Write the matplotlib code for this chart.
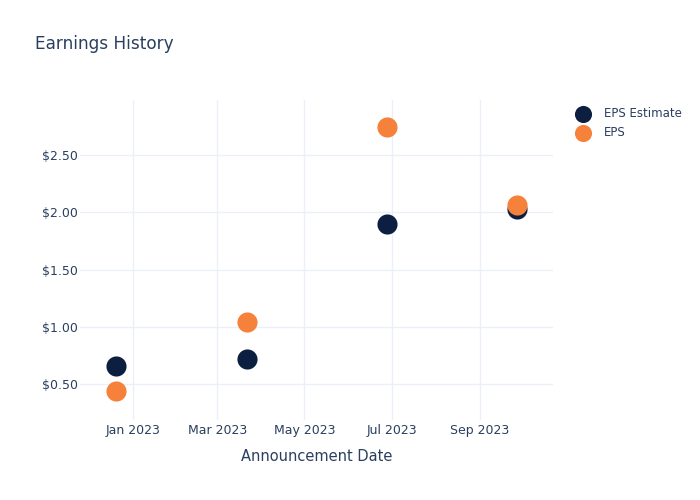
import matplotlib
matplotlib.use("Agg")
import matplotlib.pyplot as plt
import matplotlib.dates as mdates
import numpy as np
import datetime as dt

dates = ["2022-12-20", "2023-03-22", "2023-06-28", "2023-09-27"]
eps_estimate = [0.66, 0.72, 1.90, 2.03]
eps_actual = [0.44, 1.04, 2.74, 2.06]
y_ticks = [0.5, 1.0, 1.5, 2.0, 2.5]
x_ticks = ["2023-01-01", "2023-03-01", "2023-05-01", "2023-07-01", "2023-09-01"]

text_color = "#2a3f5f"
grid_color = "#ebf0f8"
navy = "#0c1f40"
orange = "#f5813a"

x = [dt.datetime.strptime(d, "%Y-%m-%d") for d in dates]
xt = [dt.datetime.strptime(d, "%Y-%m-%d") for d in x_ticks]

fig = plt.figure(figsize=(7, 5), dpi=100)
ax = fig.add_axes([80/700, 80/500, (553-80)/700, (420-100)/500])

ax.scatter(x, eps_estimate, s=210, color=navy, label="EPS Estimate", zorder=3, linewidths=0)
ax.scatter(x, eps_actual, s=210, color=orange, label="EPS", zorder=4, linewidths=0)

ax.set_xlim(dt.datetime(2022, 11, 25), dt.datetime(2023, 10, 22))
ax.set_ylim(0.186, 2.98)
ax.set_xticks(xt)
ax.xaxis.set_major_formatter(mdates.DateFormatter("%b %Y"))
ax.set_yticks(y_ticks)
ax.set_yticklabels([f"${v:.2f}" for v in y_ticks])
ax.grid(True, color=grid_color, linewidth=1)
ax.set_axisbelow(True)
for s in ax.spines.values():
    s.set_visible(False)
ax.tick_params(length=0, colors=text_color, labelsize=9)
ax.tick_params(axis="x", pad=3)
ax.tick_params(axis="y", pad=1.5)
ax.set_xlabel("Announcement Date", color=text_color, fontsize=10.5, labelpad=8.5)

fig.text(35/700, 1 - 44/500, "Earnings History", color=text_color, fontsize=12.2, va="center", ha="left")

leg = fig.legend(loc="upper left", bbox_to_anchor=(561/700, 1 - 96/500), frameon=False,
                 fontsize=8.5, labelcolor=text_color, handletextpad=0.7, labelspacing=0.55,
                 markerscale=0.85)

fig.savefig("out.png", dpi=100)
